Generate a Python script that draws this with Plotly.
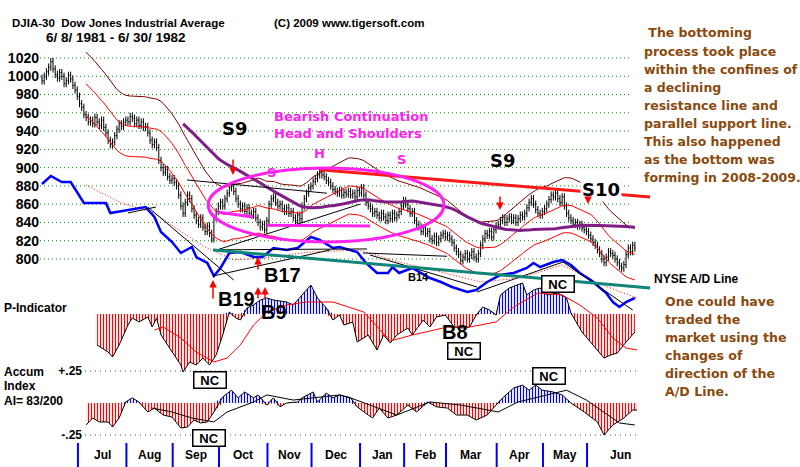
import plotly.graph_objects as go
import pandas as pd

W, H = 800, 467
FONT = "Liberation Sans, Arial, sans-serif"
HEAVY = "DejaVu Sans, Verdana, sans-serif"

# ---------------- data ----------------
month_names = ["Jul", "Aug", "Sep", "Oct", "Nov", "Dec", "Jan", "Feb", "Mar", "Apr", "May", "Jun"]
month_days = [17, 22, 21, 21, 22, 20, 22, 20, 19, 23, 21, 20, 22]   # first = Jun 8-30 1981

close_jun81 = [995, 1000, 1005, 1010, 1016, 1008, 1002, 998, 1004, 1000, 992, 995, 1001, 997, 990, 985, 978]
close_jul81 = [970, 966, 958, 955, 950, 952, 948, 955, 950, 946, 952, 944, 938, 930, 925, 928, 935, 942, 948, 945, 950, 952]
close_aug81 = [950, 956, 954, 948, 952, 946, 950, 944, 945, 938, 930, 925, 928, 922, 908, 900, 895, 898, 890, 886, 888]
close_sep81 = [884, 880, 870, 858, 850, 862, 870, 866, 855, 848, 842, 838, 845, 835, 830, 836, 828, 822, 845, 852, 858]
close_oct81 = [862, 858, 866, 872, 878, 880, 874, 866, 860, 855, 858, 852, 856, 850, 848, 852, 845, 840, 835, 838, 832, 842]
close_nov81 = [860, 866, 868, 862, 858, 860, 855, 852, 856, 850, 852, 845, 842, 848, 844, 858, 866, 872, 878, 880]
close_dec81 = [885, 888, 892, 896, 892, 890, 886, 884, 880, 876, 874, 872, 875, 870, 873, 871, 874, 870, 872, 868, 875, 872]
close_jan82 = [878, 870, 862, 858, 855, 850, 852, 848, 845, 850, 846, 842, 848, 844, 850, 845, 848, 852, 858, 864]
close_feb82 = [860, 855, 850, 852, 842, 838, 835, 830, 834, 828, 830, 822, 820, 825, 818, 822, 826, 828, 824]
close_mar82 = [826, 822, 818, 812, 808, 805, 798, 802, 806, 800, 804, 808, 802, 800, 806, 815, 822, 828, 826, 830, 824, 832, 836]
close_apr82 = [838, 842, 845, 840, 844, 846, 842, 845, 840, 844, 848, 846, 850, 856, 862, 866, 860, 854, 850, 848, 852]
close_may82 = [855, 860, 865, 870, 868, 872, 866, 862, 868, 858, 850, 845, 842, 838, 840, 836, 838, 834, 832, 830]
close_jun82 = [826, 822, 818, 815, 810, 806, 800, 796, 802, 808, 806, 804, 800, 796, 792, 790, 794, 805, 812, 808, 815, 812]

price_ticks = [800, 820, 840, 860, 880, 900, 920, 940, 960, 980, 1000, 1020]

# NYSE A/D line (index units), read at trading-day positions
ad_day = [0, 4, 9, 13, 19, 22, 29, 31, 34, 39, 47, 51, 54, 59, 63, 68, 70, 75, 78, 81,
          85, 90, 96, 100, 105, 111, 116, 122, 126, 132, 135, 143, 147, 152, 157, 159, 162, 168, 176, 181,
          186, 193, 197, 202, 208, 214, 220, 223, 226, 232, 236, 240, 244, 249, 253, 256, 259, 262, 265, 269]
ad_val = [116, 124, 118, 118, 97, 97, 97, 87, 88, 90, 93, 83, 68, 58, 47, 53, 43, 37, 24, 32,
          47, 48, 43, 43, 52, 50, 52, 63, 60, 52, 53, 48, 37, 27, 27, 33, 27, 32, 22, 18,
          13, 8, 10, 18, 25, 27, 32, 37, 33, 38, 40, 35, 27, 20, 13, 7, -2, -7, -2, 2]
ad_ma_day = [20, 36, 51, 62, 74, 87, 100, 122, 144, 162, 181, 199, 217, 236, 252, 270]
ad_ma_val = [115, 97, 87, 70, 53, 40, 42, 48, 50, 38, 28, 18, 22, 35, 17, 2]

# P-Indicator
p_day = [25, 30, 32, 35, 39, 41, 44, 48, 50, 52, 54, 57, 59, 63, 64, 67, 70, 73, 76, 79,
         82, 85, 88, 90, 93, 96, 99, 102, 105, 111, 114, 118, 122, 125, 129, 132, 135, 137, 141, 143,
         148, 152, 155, 158, 161, 166, 168, 173, 176, 179, 183, 187, 191, 194, 197, 200, 203, 206, 208, 212,
         218, 220, 223, 226, 229, 234, 238, 240, 245, 250, 255, 258, 261, 265, 269]
p_val = [-31, -38, -43, -31, -11, -4, -8, -3, -13, -4, -21, -31, -38, -51, -58, -48, -51, -44, -51, -41,
         -21, 2, -4, -6, 6, 9, 14, 16, 14, 12, 9, 19, 29, 16, 6, -6, -1, -11, -8, -28,
         -21, -36, -21, -29, -21, -14, -21, -6, -13, -3, -1, -13, -14, -13, -1, 7, 4, -1, 19, 26,
         31, 19, 24, 26, 19, 21, 16, 1, -18, -31, -44, -41, -39, -28, -18]
p_ma_day = [51, 55, 63, 70, 78, 84, 90, 96, 102, 111, 120, 132, 146, 158, 168, 184, 194, 206, 214, 225, 236, 244, 252, 259, 265, 270]
p_ma_val = [-16, -13, -24, -38, -48, -44, -31, -11, 2, 9, 12, 12, 2, -27, -21, -13, -13, -8, 7, 21, 19, 9, -4, -24, -34, -36]

# Accumulation Index
ai_day = [20, 23, 26, 30, 32, 35, 38, 41, 44, 48, 51, 55, 59, 63, 66, 69, 72, 75, 78, 82,
          86, 89, 92, 96, 98, 102, 105, 108, 111, 116, 118, 123, 125, 129, 132, 135, 140, 143, 148, 150,
          153, 157, 161, 166, 170, 175, 179, 184, 188, 193, 197, 202, 206, 209, 214, 218, 221, 224, 227, 232,
          236, 240, 246, 252, 255, 259, 264, 268, 270]
ai_val = [-0.172, -0.117, -0.148, -0.148, -0.188, -0.117, 0.008, 0.04, 0.008, -0.07, -0.04, -0.094, -0.11, -0.195, -0.188, -0.133, -0.156, -0.148, -0.07, 0.047,
          0.1, 0.04, 0.086, 0.04, 0.063, -0.016, 0.04, -0.03, 0.0, 0.008, 0.04, 0.086, 0.008, 0.078, 0.04, 0.063, 0.04, -0.03, -0.094, -0.117,
          -0.04, -0.117, -0.094, -0.016, -0.07, 0.008, -0.03, -0.04, -0.094, -0.094, -0.133, -0.094, -0.016, 0.04, 0.117, 0.14, 0.1, 0.14, 0.1, 0.086,
          0.063, 0.0, -0.07, -0.148, -0.25, -0.172, -0.117, -0.055, -0.055]
ai_ma_day = [50, 59, 68, 78, 84, 96, 102, 114, 135, 140, 161, 176, 190, 207, 216, 238, 247, 262, 269]
ai_ma_val = [-0.04, -0.07, -0.117, -0.148, -0.07, 0.008, 0.063, 0.023, 0.063, 0.04, -0.094, 0.008, -0.016, -0.07, 0.008, 0.1, 0.023, -0.156, -0.172]
ai_ticks = [0.25, -0.25]
ai_tick_text = ["+.25", "-.25"]

right_note = [" The bottoming", "process took place", "within the confines of", "a declining",
              "resistance line and", "parallel support line.", "This also happened",
              "as the bottom was", "forming in 2008-2009."]
lower_note = ["One could have", "traded the", "market using the", "changes of", "direction of the", "A/D Line."]

# ---------------- derived ----------------
closes = (close_jun81 + close_jul81 + close_aug81 + close_sep81 + close_oct81 + close_nov81 + close_dec81
          + close_jan82 + close_feb82 + close_mar82 + close_apr82 + close_may82 + close_jun82)
days = list(range(len(closes)))
opens = [closes[0] + 3] + closes[:-1]
highs = [max(o, c) + 4 for o, c in zip(opens, closes)]
lows = [min(o, c) - 4 for o, c in zip(opens, closes)]
s = pd.Series(closes, dtype=float)
ma21 = s.rolling(21).mean()
ma65 = s.rolling(65).mean()

month_first = []
acc = 0
for n in month_days[:-1]:
    acc += n
    month_first.append(acc)

# pixel helpers for layout placement
X0_PX, DX_PX = 42.0, 2.204
def d2px(d):
    return X0_PX + DX_PX * d
def px(x):
    return x / W
def py(y):
    return 1 - y / H

fig = go.Figure()

# price bars
fig.add_trace(go.Ohlc(x=days, open=opens, high=highs, low=lows, close=closes,
                      increasing=dict(line=dict(color="black", width=1)),
                      decreasing=dict(line=dict(color="black", width=1)),
                      tickwidth=0.4, hoverinfo="skip", showlegend=False, yaxis="y"))
# bands
fig.add_trace(go.Scatter(x=days, y=ma21 * 1.035, mode="lines", line=dict(color="#800000", width=1), yaxis="y"))
fig.add_trace(go.Scatter(x=days, y=ma21 * 0.965, mode="lines", line=dict(color="#ff0000", width=1), yaxis="y"))
fig.add_trace(go.Scatter(x=days, y=ma21, mode="lines", line=dict(color="#ff0000", width=1), yaxis="y"))
fig.add_trace(go.Scatter(x=days, y=ma65, mode="lines", line=dict(color="#7f1f86", width=3), yaxis="y"))

# A/D line
fig.add_trace(go.Scatter(x=ad_ma_day, y=ad_ma_val, mode="lines", line=dict(color="red", width=1, dash="1px,2px"), yaxis="y2"))
fig.add_trace(go.Scatter(x=ad_day, y=ad_val, mode="lines", line=dict(color="#0000ff", width=2.5), yaxis="y2"))

CLEAR = "rgba(255,255,255,0)"
def hatch(xs, ys, color, axis):
    fig.add_trace(go.Scatter(x=xs, y=ys, mode="lines", line=dict(width=0, color=CLEAR), fill="tozeroy",
                             fillcolor=CLEAR,
                             fillpattern=dict(shape="|", fgcolor=color, bgcolor=CLEAR, fillmode="replace",
                                              size=3, solidity=0.4), yaxis=axis))

# P-indicator
hatch(p_day, [min(v, 0) for v in p_val], "#ff0000", "y3")
hatch(p_day, [max(v, 0) for v in p_val], "#0000ff", "y3")
fig.add_trace(go.Scatter(x=p_day, y=p_val, mode="lines", line=dict(color="black", width=1), yaxis="y3"))
fig.add_trace(go.Scatter(x=p_ma_day, y=p_ma_val, mode="lines", line=dict(color="red", width=1), yaxis="y3"))

# Accum index
hatch(ai_day, [min(v, 0) for v in ai_val], "#ff0000", "y4")
hatch(ai_day, [max(v, 0) for v in ai_val], "#0000ff", "y4")
fig.add_trace(go.Scatter(x=ai_day, y=ai_val, mode="lines", line=dict(color="black", width=1), yaxis="y4"))
fig.add_trace(go.Scatter(x=ai_ma_day, y=ai_ma_val, mode="lines", line=dict(color="black", width=1), yaxis="y4"))

shapes = []
for t in price_ticks:
    shapes.append(dict(type="line", xref="x", yref="y", x0=-0.9, x1=267.7, y0=t, y1=t,
                       line=dict(color="#008800", width=1, dash="1px,3px"), layer="below"))
for t in ai_ticks:
    shapes.append(dict(type="line", xref="x", yref="y4", x0=19.5, x1=270, y0=t, y1=t,
                       line=dict(color="#444444", width=1, dash="1px,4px"), layer="below"))
for d in month_first:
    shapes.append(dict(type="line", xref="x", yref="paper", x0=d - 0.7, x1=d - 0.7, y0=0, y1=py(443),
                       line=dict(color="#0000ff", width=2)))

def seg(x0, y0, x1, y1, color, width, yref="y"):
    shapes.append(dict(type="line", xref="x", yref=yref, x0=x0, y0=y0, x1=x1, y1=y1,
                       line=dict(color=color, width=width)))

# trend lines on price
seg(77.6, 810, 147.5, 811, "black", 1)
seg(79.4, 810, 144.3, 860, "black", 1)
seg(65.8, 886.5, 129.3, 872, "black", 1)
seg(145.6, 806.6, 183.8, 803, "black", 1)
# trend lines on A/D
seg(39, 87, 51.7, 93, "black", 1, "y2")
seg(48, 93, 87, 20, "black", 1, "y2")
seg(77.6, 24, 130.7, 50, "black", 1, "y2")
seg(148.8, 45, 197.4, 13, "black", 1, "y2")
seg(197.4, 8, 236.4, 38, "black", 1, "y2")
seg(236.4, 38, 268, -10, "black", 1, "y2")
# support / resistance
seg(77.6, 809.9, 275.9, 768.3, "#10857a", 3)
seg(126, 897.6, 275.9, 867.9, "#ff1a1a", 3)
# head and shoulders
shapes.append(dict(type="circle", xref="x", yref="y", x0=75.4, x1=182.4, y0=818.6, y1=899.6,
                   line=dict(color="#ff22ee", width=3)))
seg(79.4, 851.4, 95.7, 846, "#ff22ee", 3)
seg(102, 837, 148.8, 836, "#ff22ee", 3)

anns = []
def ann(text, x, y, size=12, color="black", xanchor="center", family=FONT, **kw):
    anns.append(dict(text="<b>" + text + "</b>", x=px(x), y=py(y), xref="paper", yref="paper", xanchor=xanchor,
                     yanchor="middle", showarrow=False,
                     font=dict(size=size, color=color, family=family, weight="bold"), **kw))

def arrow(x, ytail, yhead, color="red"):
    anns.append(dict(text="", x=px(x), y=py(yhead), xref="paper", yref="paper", ax=0, ay=ytail - yhead,
                     showarrow=True, arrowhead=2, arrowsize=1, arrowwidth=1.5, arrowcolor=color))

ann("DJIA-30&nbsp;&nbsp;Dow Jones Industrial Average", 10, 23, 11.5, xanchor="left")
ann("6/ 8/ 1981 - 6/ 30/ 1982", 44, 38, 13.5, xanchor="left")
ann("(C) 2009 www.tigersoft.com", 272, 23, 11.5, xanchor="left")

ann("Bearish Continuation", 351, 116, 13, "#ff22ee", family=HEAVY)
ann("Head and Shoulders", 348, 134, 13, "#ff22ee", family=HEAVY)
ann("H", 319, 153, 13, "#ff22ee", family=HEAVY)
ann("S", 271, 172, 13, "#ff22ee", family=HEAVY)
ann("S", 401, 160, 13, "#ff22ee", family=HEAVY)
ann("S9", 235, 128, 18, family=HEAVY)
ann("S9", 503, 161, 18, family=HEAVY)
ann("S10", 601, 190, 18, family=HEAVY, bgcolor="white")
ann("B19", 236, 299, 20)
ann("B17", 282, 275, 20)
ann("B9", 274, 312, 20)
ann("B8", 455, 332, 20)
ann("B14", 418, 277, 11)
ann("NYSE A/D Line", 652, 279, 12, xanchor="left")
for (x, y) in [(558, 284), (464, 351), (210, 380), (209, 438), (549, 376)]:
    ann("NC", x, y, 13, bordercolor="black", borderwidth=1.5, bgcolor="white", borderpad=0, width=31)
ann("P-Indicator", 2, 308, 12, xanchor="left")
ann("Accum", 2, 372, 12, xanchor="left")
ann("Index", 2, 386, 12, xanchor="left")
ann("AI= 83/200", 2, 401, 12, xanchor="left")

for i, line in enumerate(right_note):
    ann(line, 642, 33 + 18.1 * i, 12.5, "#8a4a0e", xanchor="left", family=HEAVY)
for i, line in enumerate(lower_note):
    ann(line, 663, 301 + 18 * i, 12.6, "#8a4a0e", xanchor="left", family=HEAVY)

bounds = [d - 0.7 for d in month_first] + [269.7 + 8]
for i, name in enumerate(month_names):
    ann(name, (d2px(bounds[i]) + d2px(bounds[i + 1])) / 2, 455, 12)

arrow(233, 158, 175)
arrow(500, 195, 210)
arrow(588, 195, 204)
arrow(213, 300, 280)
arrow(258, 271, 257)
arrow(258, 300, 287)
arrow(265, 300, 287)

fig.update_layout(
    width=W, height=H, autosize=False, margin=dict(l=0, r=0, t=0, b=0),
    paper_bgcolor="white", plot_bgcolor="white", showlegend=False, hovermode=False,
    font=dict(family=FONT),
    xaxis=dict(range=[-X0_PX / DX_PX, (W - X0_PX) / DX_PX], visible=False, rangeslider=dict(visible=False),
               domain=[0, 1]),
    yaxis=dict(range=[572.3, 1083.5], domain=[0, 1], anchor="free", position=39 / W, showgrid=False,
               zeroline=False, showline=False, ticks="", tickvals=price_ticks,
               ticktext=["<b>%d</b>" % t for t in price_ticks],
               tickfont=dict(size=14, color="black", family=FONT, weight="bold")),
    yaxis2=dict(range=[-167, 300], overlaying="y", visible=False),
    yaxis3=dict(range=[-153, 314], overlaying="y", visible=False),
    yaxis4=dict(range=[-0.5, 3.1484375], overlaying="y", anchor="free", position=82 / W, showgrid=False,
                zeroline=False, showline=False, ticks="", tickvals=ai_ticks,
                ticktext=["<b>%s</b>" % t for t in ai_tick_text],
                tickfont=dict(size=12, color="black", family=FONT, weight="bold")),
    shapes=shapes, annotations=anns,
)
for tr in fig.data:
    if tr.type == "scatter":
        tr.showlegend = False
        tr.hoverinfo = "skip"

fig.write_html("out.html")
